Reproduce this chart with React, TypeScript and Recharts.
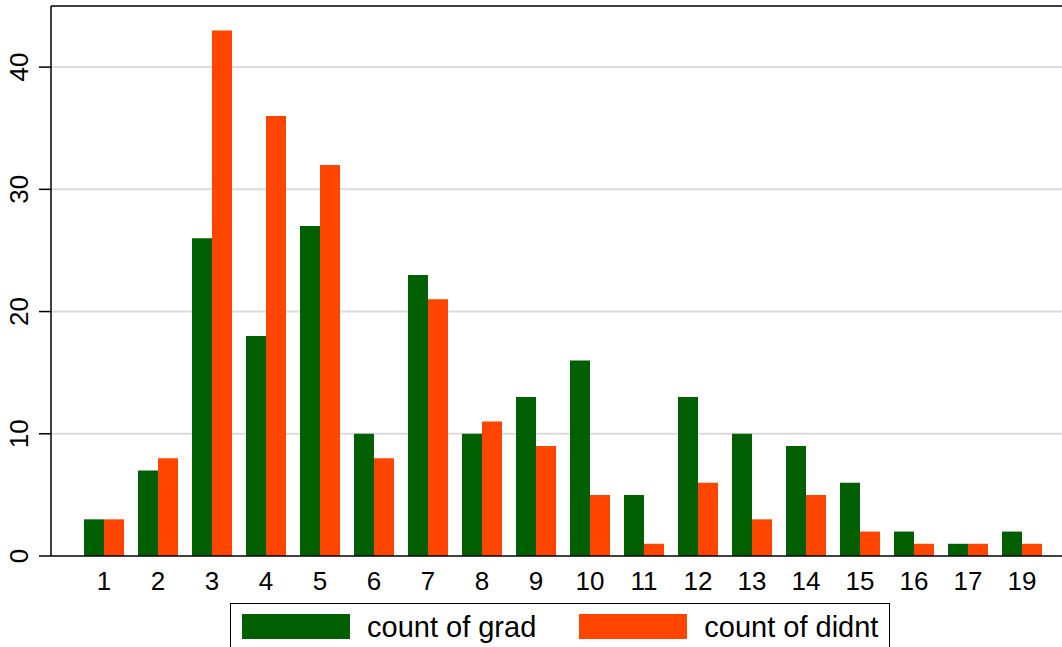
import React from 'react';
import { BarChart, Bar, XAxis, YAxis, CartesianGrid, ReferenceLine } from 'recharts';

const categories = ['1', '2', '3', '4', '5', '6', '7', '8', '9', '10', '11', '12', '13', '14', '15', '16', '17', '19'];
const gradCounts = [3, 7, 26, 18, 27, 10, 23, 10, 13, 16, 5, 13, 10, 9, 6, 2, 1, 2];
const didntCounts = [3, 8, 43, 36, 32, 8, 21, 11, 9, 5, 1, 6, 3, 5, 2, 1, 1, 1];
const yTicks = [0, 10, 20, 30, 40];

const GREEN = '#005f00';
const ORANGE = '#ff4500';
const FONT = '"Liberation Sans", Arial, sans-serif';

const data = categories.map((c, i) => ({ cat: c, grad: gradCounts[i], didnt: didntCounts[i] }));

const YTick = (props: any) => {
  const { y, payload } = props;
  const x = 28;
  return (
    <text
      x={x}
      y={y}
      transform={`rotate(-90, ${x}, ${y})`}
      textAnchor="middle"
      fontSize={26}
      fontFamily={FONT}
      fill="#000"
    >
      {payload.value}
    </text>
  );
};

const XTick = (props: any) => {
  const { x, payload } = props;
  return (
    <text x={x} y={590} textAnchor="middle" fontSize={26} fontFamily={FONT} fill="#000">
      {payload.value}
    </text>
  );
};

const LegendBox = () => (
  <div
    style={{
      position: 'absolute',
      left: 230,
      top: 603,
      border: '1.5px solid #000',
      width: 660,
      height: 60,
      boxSizing: 'border-box',
      background: '#fff',
      fontFamily: FONT,
      fontSize: 29,
      display: 'flex',
      alignItems: 'flex-start',
      paddingTop: 10,
      whiteSpace: 'nowrap',
    }}
  >
    <div style={{ width: 108, height: 25, background: GREEN, marginLeft: 11, flexShrink: 0 }} />
    <span style={{ marginLeft: 17, lineHeight: '27px' }}>count of grad</span>
    <div style={{ width: 108, height: 25, background: ORANGE, marginLeft: 43, flexShrink: 0 }} />
    <span style={{ marginLeft: 17, lineHeight: '27px' }}>count of didnt</span>
  </div>
);

export default function App() {
  return (
    <div style={{ position: 'absolute', left: 0, top: 0, width: 1062, height: 647, overflow: 'hidden', background: '#fff' }}>
      <BarChart
        width={1062}
        height={647}
        data={data}
        margin={{ top: 6, right: 0, bottom: 51, left: 0 }}
        barGap={0}
        barCategoryGap={7}
      >
        <CartesianGrid vertical={false} stroke="#dcdcdc" strokeWidth={2} horizontalValues={[10, 20, 30, 40]} />
        <XAxis
          dataKey="cat"
          height={40}
          tickLine={false}
          axisLine={{ stroke: '#000', strokeWidth: 1.5 }}
          padding={{ left: 26, right: 13 }}
          tick={<XTick />}
          interval={0}
        />
        <YAxis
          width={51}
          domain={[0, 45]}
          ticks={yTicks}
          tickSize={12}
          tickLine={{ stroke: '#000', strokeWidth: 1.5 }}
          axisLine={{ stroke: '#000', strokeWidth: 1.5 }}
          tick={<YTick />}
        />
        <ReferenceLine y={45} stroke="#000" strokeWidth={1.5} />
        <Bar dataKey="grad" name="count of grad" fill={GREEN} isAnimationActive={false} />
        <Bar dataKey="didnt" name="count of didnt" fill={ORANGE} isAnimationActive={false} />
      </BarChart>
      <LegendBox />
    </div>
  );
}
